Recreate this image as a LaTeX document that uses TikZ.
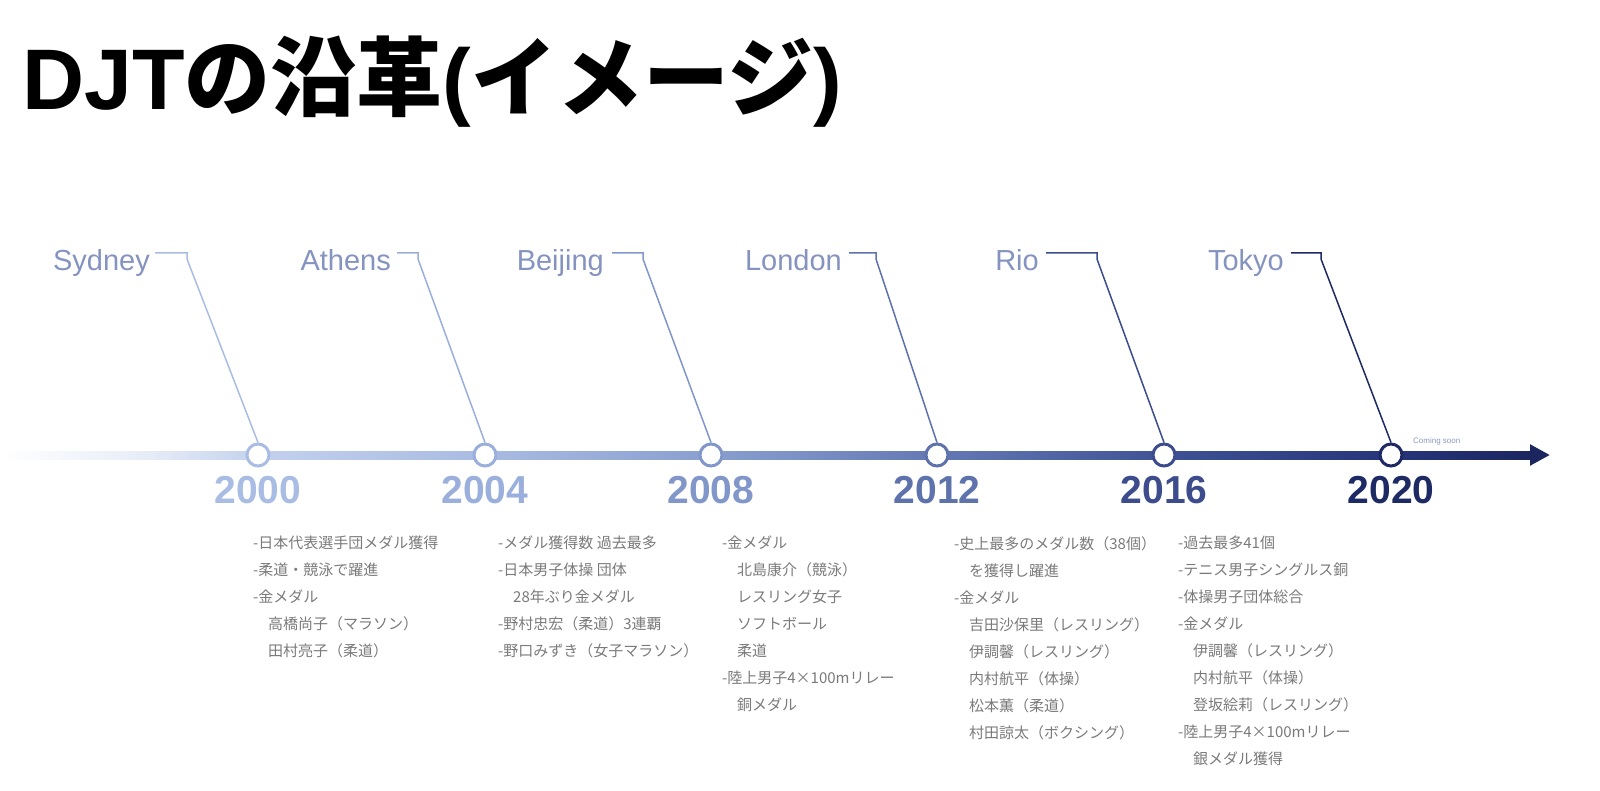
\documentclass[tikz,border=0pt]{standalone}
\usepackage{fontspec}
\setmainfont{Liberation Sans}
\newfontfamily\jpfont{Noto Sans CJK JP}
\usetikzlibrary{arrows.meta, positioning, calc}

% axis colours, light on the left, dark on the right
\definecolor{axA}{HTML}{FFFFFF}
\definecolor{axB}{HTML}{E6ECF7}
\definecolor{axC}{HTML}{C3D1EE}
\definecolor{axD}{HTML}{A9BBE2}
\definecolor{axE}{HTML}{8A9FCF}
\definecolor{axF}{HTML}{6479B4}
\definecolor{axG}{HTML}{3F5296}
\definecolor{axH}{HTML}{27357A}
\definecolor{axI}{HTML}{1B2660}
% year colours
\definecolor{yrA}{HTML}{A9BDE4}
\definecolor{yrB}{HTML}{9AAFDB}
\definecolor{yrC}{HTML}{8197CA}
\definecolor{yrD}{HTML}{5E72AC}
\definecolor{yrE}{HTML}{3C4C8C}
\definecolor{yrF}{HTML}{1E2A64}
\definecolor{citytext}{HTML}{8593C0}
\definecolor{notetext}{HTML}{7A7A7A}

\begin{document}
\begin{tikzpicture}[
    x=1pt, y=-1pt,
    title/.style   ={anchor=base west, inner sep=0pt,
                     font=\fontsize{86}{94}\selectfont\bfseries},
    yearcirc/.style={circle, draw, line width=3pt, fill=white,
                     minimum size=22pt, inner sep=0pt},
    yearlbl/.style ={inner sep=0pt, font=\fontsize{39}{42}\selectfont\bfseries},
    city/.style    ={anchor=base east, inner sep=0pt, text=citytext,
                     font=\fontsize{29}{32}\selectfont},
    leader/.style  ={line width=1.5pt, line join=miter},
    notes/.style   ={anchor=north west, inner sep=0pt, align=left, text=notetext,
                     font=\jpfont\fontsize{15}{27}\selectfont},
    soon/.style    ={anchor=west, inner sep=0pt, text=axG!60,
                     font=\fontsize{8}{9}\selectfont}
]
\useasboundingbox (0,0) rectangle (1600,791);

% Title
\node[title] (ttl) at (22,110)
    {DJT{\jpfont の沿革}({\jpfont イメージ})};

% --- Axis (shaded in pieces) ---
\shade[left color=axA, right color=axB] (0,451) rectangle (150,459);
\shade[left color=axB, right color=axC] (150,451) rectangle (258,459);
\shade[left color=axC, right color=axD] (258,451) rectangle (485,459);
\shade[left color=axD, right color=axE] (485,451) rectangle (711,459);
\shade[left color=axE, right color=axF] (711,451) rectangle (937,459);
\shade[left color=axF, right color=axG] (937,451) rectangle (1164,459);
\shade[left color=axG, right color=axH] (1164,451) rectangle (1391,459);
\shade[left color=axH, right color=axI] (1391,451) rectangle (1532,459);
\coordinate (tipbase) at (1530,455);
\coordinate (tip) at (1550,455);
\draw[axI, line width=8pt, -{Triangle[length=20pt, width=20pt]}] (tipbase) -- (tip);

\node[soon] (soon) at (1413,441) {Coming soon};

% Milestones on the axis
\node[yearcirc, draw=yrA] (c2000) at (258,455) {};
\node[yearcirc, draw=yrB] (c2004) at (485,455) {};
\node[yearcirc, draw=yrC] (c2008) at (711,455) {};
\node[yearcirc, draw=yrD] (c2012) at (937,455) {};
\node[yearcirc, draw=yrE] (c2016) at (1164,455) {};
\node[yearcirc, draw=yrF] (c2020) at (1391,455) {};

% Years
\node[yearlbl, text=yrA] (y2000) at (258,490) {2000};
\node[yearlbl, text=yrB] (y2004) at (485,490) {2004};
\node[yearlbl, text=yrC] (y2008) at (711,490) {2008};
\node[yearlbl, text=yrD] (y2012) at (937,490) {2012};
\node[yearlbl, text=yrE] (y2016) at (1164,490) {2016};
\node[yearlbl, text=yrF] (y2020) at (1391,490) {2020};

% Host cities
\node[city] (sydney)  at (150,271)  {Sydney};
\node[city] (athens)  at (391,271)  {Athens};
\node[city] (beijing) at (604,271)  {Beijing};
\node[city] (london)  at (842,271)  {London};
\node[city] (rio)     at (1039,271) {Rio};
\node[city] (tokyo)   at (1284,271) {Tokyo};

\coordinate (k2000) at (187,253);
\coordinate (k2004) at (418,253);
\coordinate (k2008) at (643,253);
\coordinate (k2012) at (876,253);
\coordinate (k2016) at (1097,253);
\coordinate (k2020) at (1321,253);

% Leaders: city -> milestone
\draw[leader, yrA] (sydney.east |- k2000)  ++(5,0) -- (k2000) -- ++(0,6) -- (c2000.north);
\draw[leader, yrB] (athens.east |- k2004)  ++(6,0) -- (k2004) -- ++(0,6) -- (c2004.north);
\draw[leader, yrC] (beijing.east |- k2008) ++(8,0) -- (k2008) -- ++(0,6) -- (c2008.north);
\draw[leader, yrD] (london.east |- k2012)  ++(7,0) -- (k2012) -- ++(0,6) -- (c2012.north);
\draw[leader, yrE] (rio.east |- k2016)     ++(7,0) -- (k2016) -- ++(0,6) -- (c2016.north);
\draw[leader, yrF] (tokyo.east |- k2020)   ++(7,0) -- (k2020) -- ++(0,6) -- (c2020.north);

% Notes under each year
\node[notes] (n2000) at (253,536)
    {-日本代表選手団メダル獲得\\-柔道・競泳で躍進\\-金メダル\\
     　高橋尚子（マラソン）\\　田村亮子（柔道）};
\node[notes] (n2004) at (498,536)
    {-メダル獲得数 過去最多\\-日本男子体操 団体\\　28年ぶり金メダル\\
     -野村忠宏（柔道）3連覇\\-野口みずき（女子マラソン）};
\node[notes] (n2008) at (722,536)
    {-金メダル\\　北島康介（競泳）\\　レスリング女子\\　ソフトボール\\
     　柔道\\-陸上男子4×100mリレー\\　銅メダル};
\node[notes] (n2012) at (954,536)
    {-史上最多のメダル数（38個）\\　を獲得し躍進\\-金メダル\\
     　吉田沙保里（レスリング）\\　伊調馨（レスリング）\\
     　内村航平（体操）\\　松本薫（柔道）\\　村田諒太（ボクシング）};
\node[notes] (n2016) at (1178,536)
    {-過去最多41個\\-テニス男子シングルス銅\\-体操男子団体総合\\-金メダル\\
     　伊調馨（レスリング）\\　内村航平（体操）\\　登坂絵莉（レスリング）\\
     -陸上男子4×100mリレー\\　銀メダル獲得};

\end{tikzpicture}
\end{document}
